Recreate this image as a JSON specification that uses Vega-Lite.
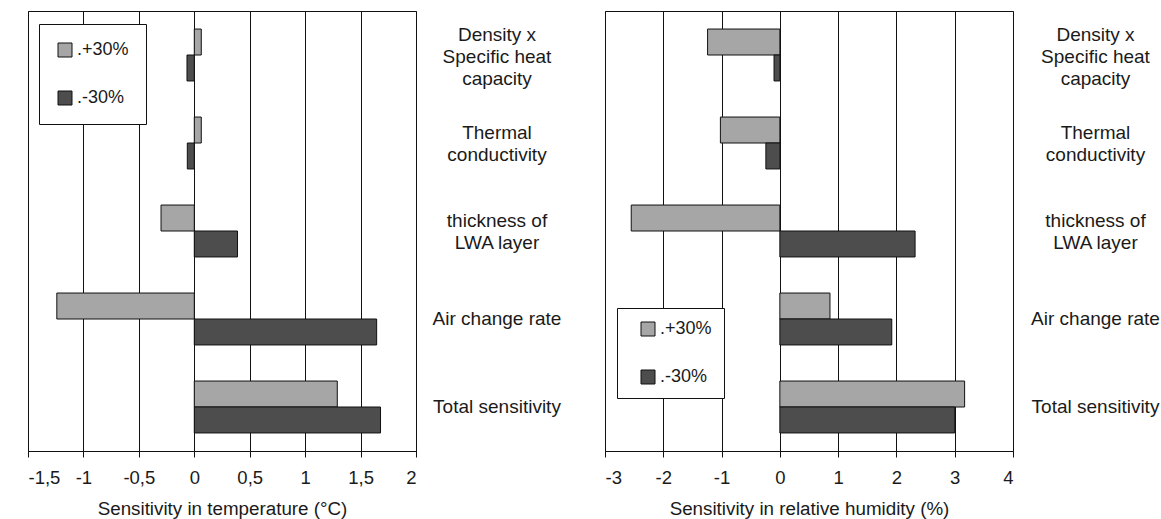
{
  "$schema": "https://vega.github.io/schema/vega-lite/v6.json",
  "background": "white",
  "padding": {"left": 27, "top": 10, "right": 0, "bottom": 0},
  "config": {
    "font": "Liberation Sans",
    "view": {"stroke": "#111", "strokeWidth": 1},
    "axis": {"labelFont": "Liberation Sans", "labelFontSize": 18.5, "labelColor": "#1a1a1a", "titleFont": "Liberation Sans", "titleFontSize": 18.8, "titleFontWeight": "normal", "titleColor": "#1a1a1a"}
  },
  "datasets": {
    "temp": [
      {"parameter": "Density  x|Specific heat|capacity", "series": "+30%", "value": 0.063},
      {"parameter": "Density  x|Specific heat|capacity", "series": "-30%", "value": -0.066},
      {"parameter": "Thermal|conductivity", "series": "+30%", "value": 0.063},
      {"parameter": "Thermal|conductivity", "series": "-30%", "value": -0.063},
      {"parameter": "thickness of|LWA layer", "series": "+30%", "value": -0.30},
      {"parameter": "thickness of|LWA layer", "series": "-30%", "value": 0.39},
      {"parameter": "Air change rate", "series": "+30%", "value": -1.24},
      {"parameter": "Air change rate", "series": "-30%", "value": 1.645},
      {"parameter": "Total sensitivity", "series": "+30%", "value": 1.29},
      {"parameter": "Total sensitivity", "series": "-30%", "value": 1.68}
    ],
    "rh": [
      {"parameter": "Density  x|Specific heat|capacity", "series": "+30%", "value": -1.24},
      {"parameter": "Density  x|Specific heat|capacity", "series": "-30%", "value": -0.10},
      {"parameter": "Thermal|conductivity", "series": "+30%", "value": -1.02},
      {"parameter": "Thermal|conductivity", "series": "-30%", "value": -0.24},
      {"parameter": "thickness of|LWA layer", "series": "+30%", "value": -2.55},
      {"parameter": "thickness of|LWA layer", "series": "-30%", "value": 2.32},
      {"parameter": "Air change rate", "series": "+30%", "value": 0.86},
      {"parameter": "Air change rate", "series": "-30%", "value": 1.92},
      {"parameter": "Total sensitivity", "series": "+30%", "value": 3.17},
      {"parameter": "Total sensitivity", "series": "-30%", "value": 3.0}
    ]
  },
  "spacing": 189,
  "bounds": "flush",
  "resolve": {"scale": {"color": "independent"}, "legend": {"color": "independent"}},
  "hconcat": [
    {
      "width": 388,
      "height": 440,
      "data": {"name": "temp"},
      "mark": {"type": "bar", "stroke": "#111", "strokeWidth": 1},
      "encoding": {
        "y": {
          "field": "parameter", "type": "nominal",
          "sort": ["Density  x|Specific heat|capacity", "Thermal|conductivity", "thickness of|LWA layer", "Air change rate", "Total sensitivity"],
          "scale": {"paddingInner": 0.41, "paddingOuter": 0.205},
          "axis": {"orient": "right", "title": null, "domain": false, "ticks": false, "tickSize": 0, "grid": false, "labelAlign": "center", "labelPadding": 80.5, "labelFontSize": 19, "labelExpr": "split(datum.value, '|')", "labelLineHeight": 22, "labelLimit": 0,
            "labelOffset": {"condition": [{"test": "length(split(datum.value, '|')) == 3", "value": -20}, {"test": "length(split(datum.value, '|')) == 2", "value": -10}], "value": 0}}
        },
        "yOffset": {"field": "series", "sort": ["+30%", "-30%"], "scale": {"paddingInner": 0}},
        "x": {
          "field": "value", "type": "quantitative",
          "scale": {"domain": [-1.5, 2], "nice": false, "zero": false},
          "axis": {"values": [-1.5, -1, -0.5, 0, 0.5, 1, 1.5, 2], "labelExpr": "replace(toString(datum.value), '.', ',')", "title": "Sensitivity in temperature (°C)", "grid": true, "gridColor": "#111", "gridOpacity": 1, "gridWidth": 1, "domainColor": "#111", "tickColor": "#111", "tickSize": 6, "labelPadding": 11, "titlePadding": 13}
        },
        "color": {
          "field": "series", "type": "nominal",
          "scale": {"domain": ["+30%", "-30%"], "range": ["#a6a6a6", "#4d4d4d"]},
          "legend": {"orient": "none", "legendX": 11, "legendY": 13, "title": null, "symbolType": "square", "symbolSize": 196, "symbolStrokeColor": "#111", "symbolStrokeWidth": 1, "labelFontSize": 18, "labelFont": "Liberation Sans", "labelColor": "#1a1a1a", "labelOffset": 3, "padding": 17, "rowPadding": 30, "strokeColor": "#111", "fillColor": "white", "labelExpr": "'.' + datum.label"}
        }
      }
    },
    {
      "width": 408,
      "height": 440,
      "data": {"name": "rh"},
      "mark": {"type": "bar", "stroke": "#111", "strokeWidth": 1},
      "encoding": {
        "y": {
          "field": "parameter", "type": "nominal",
          "sort": ["Density  x|Specific heat|capacity", "Thermal|conductivity", "thickness of|LWA layer", "Air change rate", "Total sensitivity"],
          "scale": {"paddingInner": 0.41, "paddingOuter": 0.205},
          "axis": {"orient": "right", "title": null, "domain": false, "ticks": false, "tickSize": 0, "grid": false, "labelAlign": "center", "labelPadding": 82, "labelFontSize": 19, "labelExpr": "split(datum.value, '|')", "labelLineHeight": 22, "labelLimit": 0,
            "labelOffset": {"condition": [{"test": "length(split(datum.value, '|')) == 3", "value": -20}, {"test": "length(split(datum.value, '|')) == 2", "value": -10}], "value": 0}}
        },
        "yOffset": {"field": "series", "sort": ["+30%", "-30%"], "scale": {"paddingInner": 0}},
        "x": {
          "field": "value", "type": "quantitative",
          "scale": {"domain": [-3, 4], "nice": false, "zero": false},
          "axis": {"values": [-3, -2, -1, 0, 1, 2, 3, 4], "labelExpr": "toString(datum.value)", "title": "Sensitivity in relative humidity (%)", "grid": true, "gridColor": "#111", "gridOpacity": 1, "gridWidth": 1, "domainColor": "#111", "tickColor": "#111", "tickSize": 6, "labelPadding": 11, "titlePadding": 13}
        },
        "color": {
          "field": "series", "type": "nominal",
          "scale": {"domain": ["+30%", "-30%"], "range": ["#a6a6a6", "#4d4d4d"]},
          "legend": {"orient": "none", "legendX": 12, "legendY": 297, "title": null, "symbolType": "square", "symbolSize": 196, "symbolStrokeColor": "#111", "symbolStrokeWidth": 1, "symbolOffset": 10, "labelFontSize": 18, "labelFont": "Liberation Sans", "labelColor": "#1a1a1a", "labelOffset": 3, "padding": 12, "rowPadding": 30, "strokeColor": "#111", "fillColor": "white", "labelExpr": "'.' + datum.label"}
        }
      }
    }
  ]
}
